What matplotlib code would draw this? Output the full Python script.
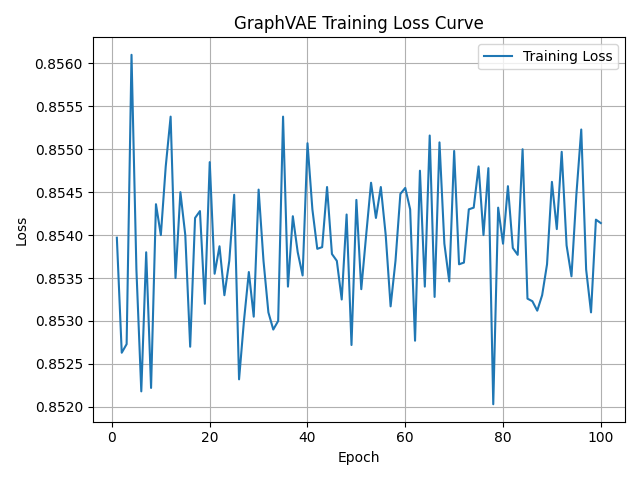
import matplotlib
matplotlib.use("Agg")
import matplotlib.pyplot as plt

epochs = list(range(1, 101))
loss = [
    0.85397, 0.85263, 0.85273, 0.85610, 0.85360, 0.85218, 0.85380, 0.85222, 0.85436, 0.85400,
    0.85480, 0.85538, 0.85350, 0.85450, 0.85400, 0.85270, 0.85420, 0.85428, 0.85320, 0.85485,
    0.85355, 0.85387, 0.85330, 0.85370, 0.85447, 0.85232, 0.85300, 0.85357, 0.85305, 0.85453,
    0.85370, 0.85310, 0.85290, 0.85300, 0.85538, 0.85340, 0.85422, 0.85380, 0.85353, 0.85507,
    0.85430, 0.85384, 0.85386, 0.85456, 0.85378, 0.85370, 0.85325, 0.85424, 0.85272, 0.85441,
    0.85337, 0.85400, 0.85461, 0.85420, 0.85456, 0.85400, 0.85317, 0.85370, 0.85448, 0.85455,
    0.85430, 0.85277, 0.85475, 0.85340, 0.85516, 0.85328, 0.85508, 0.85390, 0.85346, 0.85498,
    0.85366, 0.85368, 0.85430, 0.85432, 0.85480, 0.85400, 0.85478, 0.85203, 0.85432, 0.85390,
    0.85457, 0.85385, 0.85377, 0.85500, 0.85326, 0.85323, 0.85312, 0.85330, 0.85366, 0.85462,
    0.85407, 0.85497, 0.85388, 0.85352, 0.85447, 0.85523, 0.85360, 0.85310, 0.85418, 0.85414,
]

fig, ax = plt.subplots(figsize=(6.4, 4.8), dpi=100)
ax.plot(epochs, loss, label="Training Loss")
ax.set_title("GraphVAE Training Loss Curve")
ax.set_xlabel("Epoch")
ax.set_ylabel("Loss")
ax.grid(True)
ax.legend()
fig.tight_layout()
fig.savefig("out.png")
